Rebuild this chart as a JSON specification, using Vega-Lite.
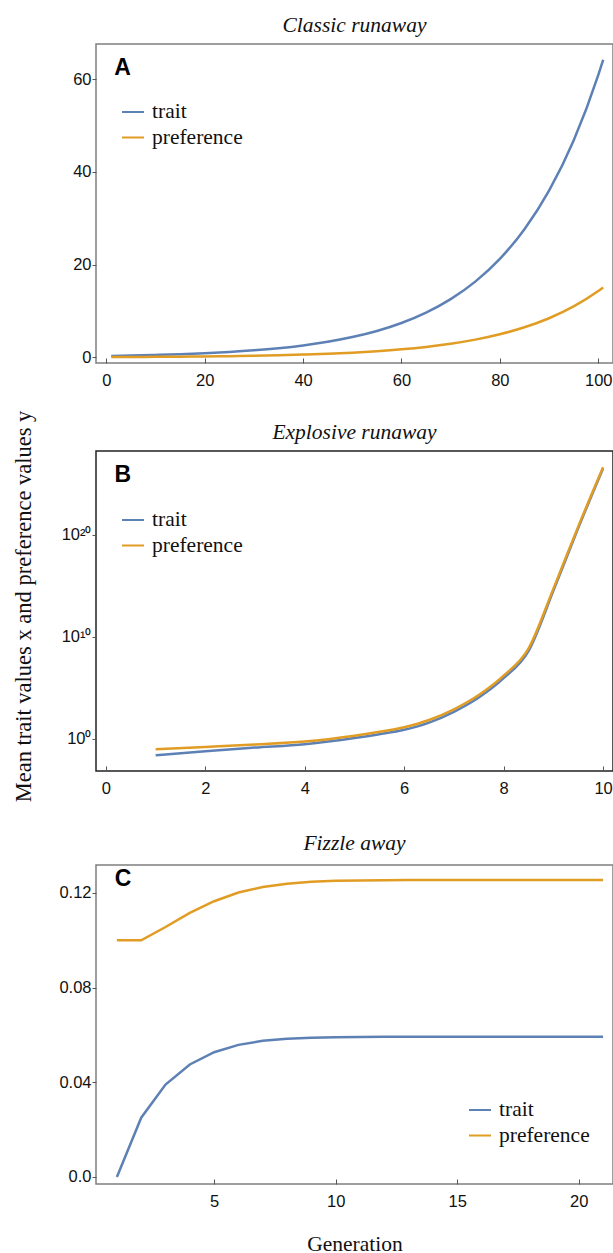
{
  "$schema": "https://vega.github.io/schema/vega-lite/v6.json",
  "background": "white",
  "padding": {"left": 11, "top": 13, "right": 0, "bottom": 0},
  "spacing": 19,
  "config": {
    "view": {"stroke": "#7f7f7f", "strokeWidth": 1.5},
    "axis": {"grid": false, "domain": false, "labelFont": "Liberation Sans", "labelFontSize": 16.5, "labelColor": "#111", "tickColor": "#555", "tickWidth": 1, "titleFont": "Liberation Serif", "titleFontSize": 21.5, "titleFontWeight": "normal", "titleColor": "#111"},
    "axisX": {"tickSize": -5, "labelPadding": 14},
    "axisY": {"tickSize": 4, "labelPadding": 1},
    "title": {"font": "Liberation Serif", "fontStyle": "italic", "fontWeight": "normal", "fontSize": 21.5, "color": "#111", "offset": 8, "anchor": "middle"},
    "legend": {"labelFont": "Liberation Serif", "labelFontSize": 21.5, "labelColor": "#111", "symbolType": "stroke", "symbolStrokeWidth": 2, "symbolSize": 484, "rowPadding": 2.5, "labelOffset": 7, "padding": 0}
  },
  "datasets": {
    "runs": [
      {"panel": "A", "gen": 1, "trait": 0.334, "preference": 0.078},
      {"panel": "A", "gen": 5, "trait": 0.411, "preference": 0.097},
      {"panel": "A", "gen": 10, "trait": 0.535, "preference": 0.126},
      {"panel": "A", "gen": 15, "trait": 0.696, "preference": 0.164},
      {"panel": "A", "gen": 20, "trait": 0.906, "preference": 0.213},
      {"panel": "A", "gen": 25, "trait": 1.178, "preference": 0.277},
      {"panel": "A", "gen": 30, "trait": 1.532, "preference": 0.36},
      {"panel": "A", "gen": 35, "trait": 1.994, "preference": 0.469},
      {"panel": "A", "gen": 40, "trait": 2.594, "preference": 0.61},
      {"panel": "A", "gen": 45, "trait": 3.374, "preference": 0.793},
      {"panel": "A", "gen": 50, "trait": 4.39, "preference": 1.032},
      {"panel": "A", "gen": 55, "trait": 5.709, "preference": 1.342},
      {"panel": "A", "gen": 60, "trait": 7.427, "preference": 1.745},
      {"panel": "A", "gen": 65, "trait": 9.662, "preference": 2.271},
      {"panel": "A", "gen": 70, "trait": 12.57, "preference": 2.954},
      {"panel": "A", "gen": 75, "trait": 16.35, "preference": 3.842},
      {"panel": "A", "gen": 80, "trait": 21.26, "preference": 4.996},
      {"panel": "A", "gen": 85, "trait": 27.66, "preference": 6.5},
      {"panel": "A", "gen": 90, "trait": 35.98, "preference": 8.455},
      {"panel": "A", "gen": 95, "trait": 46.81, "preference": 11.0},
      {"panel": "A", "gen": 100, "trait": 60.91, "preference": 14.31},
      {"panel": "A", "gen": 101, "trait": 64.2, "preference": 15.09},
      {"panel": "B", "gen": 1, "trait": 0.025, "preference": 0.1},
      {"panel": "B", "gen": 2, "trait": 0.063, "preference": 0.166},
      {"panel": "B", "gen": 3, "trait": 0.141, "preference": 0.288},
      {"panel": "B", "gen": 4, "trait": 0.302, "preference": 0.55},
      {"panel": "B", "gen": 5, "trait": 1.2, "preference": 2.09},
      {"panel": "B", "gen": 5.5, "trait": 2.88, "preference": 5.01},
      {"panel": "B", "gen": 6, "trait": 7.94, "preference": 14.1},
      {"panel": "B", "gen": 6.5, "trait": 39.8, "preference": 70.8},
      {"panel": "B", "gen": 7, "trait": 447, "preference": 794},
      {"panel": "B", "gen": 7.5, "trait": 11200, "preference": 20000},
      {"panel": "B", "gen": 8, "trait": 8.9e5, "preference": 1.58e6},
      {"panel": "B", "gen": 8.5, "trait": 3.98e8, "preference": 7.08e8},
      {"panel": "B", "gen": 9, "trait": 3.16e14, "preference": 5.0e14},
      {"panel": "B", "gen": 9.5, "trait": 4.47e20, "preference": 6.3e20},
      {"panel": "B", "gen": 10, "trait": 3.16e26, "preference": 4.0e26},
      {"panel": "C", "gen": 1, "trait": 0.0, "preference": 0.1},
      {"panel": "C", "gen": 2, "trait": 0.025, "preference": 0.1},
      {"panel": "C", "gen": 3, "trait": 0.039, "preference": 0.1056},
      {"panel": "C", "gen": 4, "trait": 0.0475, "preference": 0.1116},
      {"panel": "C", "gen": 5, "trait": 0.0527, "preference": 0.1165},
      {"panel": "C", "gen": 6, "trait": 0.0558, "preference": 0.1202},
      {"panel": "C", "gen": 7, "trait": 0.0575, "preference": 0.1225},
      {"panel": "C", "gen": 8, "trait": 0.0584, "preference": 0.1239},
      {"panel": "C", "gen": 9, "trait": 0.0588, "preference": 0.1247},
      {"panel": "C", "gen": 10, "trait": 0.059, "preference": 0.1251},
      {"panel": "C", "gen": 11, "trait": 0.0591, "preference": 0.1253},
      {"panel": "C", "gen": 12, "trait": 0.0592, "preference": 0.1254},
      {"panel": "C", "gen": 13, "trait": 0.0592, "preference": 0.1255},
      {"panel": "C", "gen": 14, "trait": 0.0592, "preference": 0.1255},
      {"panel": "C", "gen": 15, "trait": 0.0592, "preference": 0.1255},
      {"panel": "C", "gen": 16, "trait": 0.0592, "preference": 0.1255},
      {"panel": "C", "gen": 17, "trait": 0.0592, "preference": 0.1255},
      {"panel": "C", "gen": 18, "trait": 0.0592, "preference": 0.1255},
      {"panel": "C", "gen": 19, "trait": 0.0592, "preference": 0.1255},
      {"panel": "C", "gen": 20, "trait": 0.0592, "preference": 0.1255},
      {"panel": "C", "gen": 21, "trait": 0.0592, "preference": 0.1255}
    ]
  },
  "vconcat": [
    {
      "width": 517,
      "height": 319,
      "title": {"text": "Classic runaway"},
      "view": {"stroke": "#7f7f7f", "strokeWidth": 1.5},
      "layer": [
        {
          "data": {"name": "runs"},
          "transform": [
            {"filter": "datum.panel === 'A'"},
            {"fold": ["trait", "preference"], "as": ["series", "value"]}
          ],
          "mark": {"type": "line", "strokeWidth": 2.5, "interpolate": "monotone"},
          "encoding": {
            "x": {"field": "gen", "type": "quantitative", "scale": {"domain": [-2.1, 103], "nice": false, "zero": false}, "axis": {"values": [0, 20, 40, 60, 80, 100], "title": null}},
            "y": {"field": "value", "type": "quantitative", "scale": {"domain": [-1.2, 67.6], "nice": false, "zero": false}, "axis": {"values": [0, 20, 40, 60], "title": null}},
            "color": {"field": "series", "type": "nominal", "scale": {"domain": ["trait", "preference"], "range": ["#5E81B5", "#E19C24"]}, "legend": {"orient": "none", "legendX": 25, "legendY": 56, "title": null}}
          }
        },
        {
          "data": {"values": [{"letter": "A"}]},
          "mark": {"type": "text", "font": "Liberation Sans", "fontWeight": "bold", "fontSize": 23, "align": "left", "baseline": "middle", "color": "#000"},
          "encoding": {"text": {"field": "letter"}, "x": {"datum": 1.6}, "y": {"datum": 62.4}}
        }
      ]
    },
    {
      "spacing": 28,
      "vconcat": [
        {
          "width": 517,
          "height": 320,
          "title": {"text": "Explosive runaway", "offset": -33},
          "view": {"stroke": "#222222", "strokeWidth": 1.5},
          "layer": [
            {
              "data": {"name": "runs"},
              "transform": [
                {"filter": "datum.panel === 'B'"},
                {"fold": ["trait", "preference"], "as": ["series", "value"]}
              ],
              "mark": {"type": "line", "strokeWidth": 2.5, "interpolate": "monotone"},
              "encoding": {
                "x": {"field": "gen", "type": "quantitative", "scale": {"domain": [-0.2, 10.2], "nice": false, "zero": false}, "axis": {"values": [0, 2, 4, 6, 8, 10], "title": null}},
                "y": {"field": "value", "type": "quantitative", "scale": {"type": "log", "domain": [0.00072, 1.6e28], "nice": false}, "axis": {"values": [1, 1e10, 1e20], "labelExpr": "datum.value < 10 ? '10⁰' : datum.value < 1e15 ? '10¹⁰' : '10²⁰'", "title": "Mean trait values x and preference values y", "titleFontSize": 22.5, "titleX": -66, "titleY": 155, "titleAngle": 270, "titleBaseline": "alphabetic", "titleAlign": "center"}},
                "color": {"field": "series", "type": "nominal", "scale": {"domain": ["trait", "preference"], "range": ["#5E81B5", "#E19C24"]}, "legend": {"orient": "none", "legendX": 25, "legendY": 57, "title": null}}
              }
            },
            {
              "data": {"values": [{"letter": "B"}]},
              "mark": {"type": "text", "font": "Liberation Sans", "fontWeight": "bold", "fontSize": 23, "align": "left", "baseline": "middle", "color": "#000"},
              "encoding": {"text": {"field": "letter"}, "x": {"datum": 0.17}, "y": {"datum": 7.9e25}}
            }
          ]
        },
        {
          "width": 517,
          "height": 319,
          "title": {"text": "Fizzle away", "offset": 11},
          "view": {"stroke": "#7f7f7f", "strokeWidth": 1.5},
          "layer": [
            {
              "data": {"name": "runs"},
              "transform": [
                {"filter": "datum.panel === 'C'"},
                {"fold": ["trait", "preference"], "as": ["series", "value"]}
              ],
              "mark": {"type": "line", "strokeWidth": 2.5},
              "encoding": {
                "x": {"field": "gen", "type": "quantitative", "scale": {"domain": [0.14, 21.41], "nice": false, "zero": false}, "axis": {"values": [5, 10, 15, 20], "title": "Generation", "titleY": 49, "titleBaseline": "top"}},
                "y": {"field": "value", "type": "quantitative", "scale": {"domain": [-0.003, 0.1318], "nice": false, "zero": false}, "axis": {"values": [0, 0.04, 0.08, 0.12], "labelExpr": "datum.value == 0 ? '0.0' : format(datum.value, '.2f')", "title": null}},
                "color": {"field": "series", "type": "nominal", "scale": {"domain": ["trait", "preference"], "range": ["#5E81B5", "#E19C24"]}, "legend": {"orient": "none", "legendX": 372, "legendY": 233, "title": null}}
              }
            },
            {
              "data": {"values": [{"letter": "C"}]},
              "mark": {"type": "text", "font": "Liberation Sans", "fontWeight": "bold", "fontSize": 23, "align": "left", "baseline": "middle", "color": "#000"},
              "encoding": {"text": {"field": "letter"}, "x": {"datum": 0.91}, "y": {"datum": 0.126}}
            }
          ]
        }
      ],
      "resolve": {"scale": {"x": "independent", "y": "independent", "color": "independent"}, "legend": {"color": "independent"}}
    }
  ],
  "resolve": {"scale": {"x": "independent", "y": "independent", "color": "independent"}, "legend": {"color": "independent"}}
}
